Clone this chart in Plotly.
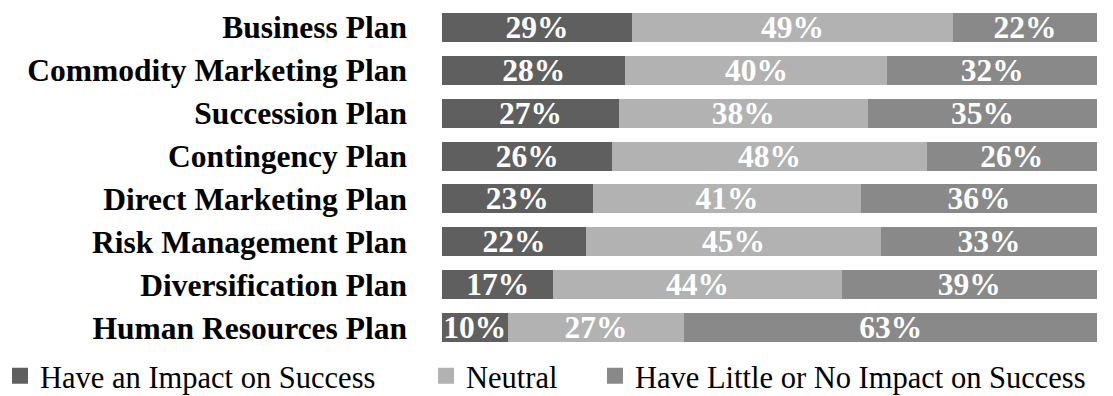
import plotly.graph_objects as go

categories = ["Business Plan", "Commodity Marketing Plan", "Succession Plan", "Contingency Plan",
              "Direct Marketing Plan", "Risk Management Plan", "Diversification Plan", "Human Resources Plan"]
impact = [29, 28, 27, 26, 23, 22, 17, 10]
neutral = [49, 40, 38, 48, 41, 45, 44, 27]
little = [22, 32, 35, 26, 36, 33, 39, 63]
series_names = ["Have an Impact on Success", "Neutral", "Have Little or No Impact on Success"]
colors = ["#5f5f5f", "#b2b2b2", "#898989"]
legend_ids = ["legend", "legend2", "legend3"]
legend_x_px = [-8, 426, 595]

font_family = "Liberation Serif, Times New Roman, serif"
fig = go.Figure()
for name, vals, col, lid in zip(series_names, [impact, neutral, little], colors, legend_ids):
    fig.add_trace(go.Bar(
        y=categories, x=vals, name=name, orientation="h",
        marker=dict(color=col, line=dict(width=0)),
        text=[f"{v}%" for v in vals], textposition="inside", insidetextanchor="middle",
        textangle=0, constraintext="none",
        textfont=dict(family=font_family, size=31.5, color="white", weight="bold"),
        hoverinfo="skip", showlegend=False,
    ))
    # legend proxy (square marker)
    fig.add_trace(go.Scatter(
        x=[None], y=[None], mode="markers", name=name, legend=lid,
        marker=dict(symbol="square", size=17, color=col, line=dict(width=0)),
        showlegend=True, hoverinfo="skip",
    ))

legend_common = dict(orientation="h", xref="container", xanchor="left",
                     yref="container", y=20/396, yanchor="middle",
                     font=dict(family=font_family, size=30.5, color="black"),
                     itemwidth=30, bgcolor="rgba(0,0,0,0)", borderwidth=0)

fig.update_layout(
    barmode="stack", bargap=0.325,
    width=1113, height=396,
    margin=dict(l=442, r=16, t=5.5, b=47, autoexpand=False),
    plot_bgcolor="white", paper_bgcolor="white",
    font=dict(family=font_family, color="black"),
    xaxis=dict(range=[0, 100], visible=False, fixedrange=True),
    yaxis=dict(autorange="reversed", showgrid=False, showline=False, ticks="",
               tickfont=dict(family=font_family, size=31.5, color="black", weight="bold"),
               ticklabelstandoff=34),
    legend=dict(x=legend_x_px[0] / 1113, **legend_common),
    legend2=dict(x=legend_x_px[1] / 1113, **legend_common),
    legend3=dict(x=legend_x_px[2] / 1113, **legend_common),
    uniformtext=dict(mode=False),
)
fig.write_html("out.html")
